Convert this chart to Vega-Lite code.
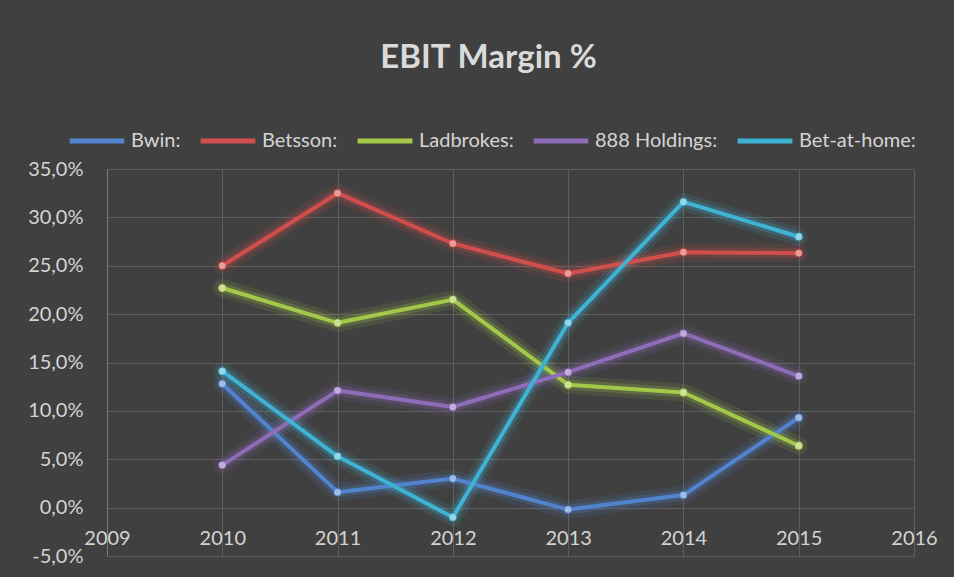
{
  "$schema": "https://vega.github.io/schema/vega-lite/v6.json",
  "width": 807,
  "height": 387,
  "autosize": {"type": "none"},
  "padding": {"left": 107, "top": 169, "right": 40, "bottom": 21},
  "background": "#404040",
  "config": {"view": {"stroke": null}},
  "title": {
    "text": "EBIT Margin %",
    "font": "Lato",
    "fontSize": 33,
    "fontWeight": "bold",
    "color": "#dadada",
    "anchor": "middle",
    "frame": "group",
    "dx": -22,
    "offset": 36
  },
  "data": {
    "values": [
      {"company": "Bwin", "year": 2010, "value": 12.8},
      {"company": "Bwin", "year": 2011, "value": 1.6},
      {"company": "Bwin", "year": 2012, "value": 3.0},
      {"company": "Bwin", "year": 2013, "value": -0.2},
      {"company": "Bwin", "year": 2014, "value": 1.3},
      {"company": "Bwin", "year": 2015, "value": 9.3},
      {"company": "Betsson", "year": 2010, "value": 25.0},
      {"company": "Betsson", "year": 2011, "value": 32.5},
      {"company": "Betsson", "year": 2012, "value": 27.3},
      {"company": "Betsson", "year": 2013, "value": 24.2},
      {"company": "Betsson", "year": 2014, "value": 26.4},
      {"company": "Betsson", "year": 2015, "value": 26.3},
      {"company": "Ladbrokes", "year": 2010, "value": 22.7},
      {"company": "Ladbrokes", "year": 2011, "value": 19.1},
      {"company": "Ladbrokes", "year": 2012, "value": 21.5},
      {"company": "Ladbrokes", "year": 2013, "value": 12.7},
      {"company": "Ladbrokes", "year": 2014, "value": 11.9},
      {"company": "Ladbrokes", "year": 2015, "value": 6.4},
      {"company": "888 Holdings", "year": 2010, "value": 4.4},
      {"company": "888 Holdings", "year": 2011, "value": 12.1},
      {"company": "888 Holdings", "year": 2012, "value": 10.4},
      {"company": "888 Holdings", "year": 2013, "value": 14.0},
      {"company": "888 Holdings", "year": 2014, "value": 18.0},
      {"company": "888 Holdings", "year": 2015, "value": 13.6},
      {"company": "Bet-at-home", "year": 2010, "value": 14.1},
      {"company": "Bet-at-home", "year": 2011, "value": 5.3},
      {"company": "Bet-at-home", "year": 2012, "value": -1.0},
      {"company": "Bet-at-home", "year": 2013, "value": 19.1},
      {"company": "Bet-at-home", "year": 2014, "value": 31.6},
      {"company": "Bet-at-home", "year": 2015, "value": 28.0}
    ]
  },
  "encoding": {
    "x": {
      "field": "year",
      "type": "quantitative",
      "scale": {"domain": [2009, 2016], "nice": false, "zero": false},
      "axis": {
        "values": [2009, 2010, 2011, 2012, 2013, 2014, 2015, 2016],
        "format": "d",
        "title": null,
        "grid": true,
        "gridColor": "#5e5e5e",
        "gridWidth": 1,
        "domain": false,
        "ticks": false,
        "labelPadding": -28,
        "labelFlush": false,
        "labelFont": "Lato",
        "labelFontSize": 20,
        "labelColor": "#d4d4d4"
      }
    },
    "y": {
      "field": "value",
      "type": "quantitative",
      "scale": {"domain": [-5, 35], "nice": false, "zero": false},
      "axis": {
        "values": [-5, 0, 5, 10, 15, 20, 25, 30, 35],
        "labelExpr": "replace(replace(format(datum.value, '.1f'), '.', ','), '\u2212', '-') + '%'",
        "title": null,
        "grid": true,
        "gridColor": "#5e5e5e",
        "gridWidth": 1,
        "domain": true,
        "domainColor": "#7a7a7a",
        "ticks": false,
        "labelPadding": 24,
        "labelFont": "Lato",
        "labelFontSize": 20,
        "labelColor": "#d4d4d4"
      }
    },
    "color": {
      "field": "company",
      "type": "nominal",
      "scale": {
        "domain": ["Bwin", "Betsson", "Ladbrokes", "888 Holdings", "Bet-at-home"],
        "range": ["#5283cf", "#d04f4c", "#a4c94a", "#8d6cb8", "#3fb3d4"]
      },
      "legend": {
        "title": null,
        "orient": "none",
        "direction": "horizontal",
        "columns": 5,
        "legendX": -40,
        "legendY": -58,
        "symbolType": "stroke",
        "symbolSize": 3000,
        "symbolStrokeWidth": 5,
        "symbolOpacity": 1,
        "labelFont": "Lato",
        "labelFontSize": 20,
        "labelColor": "#d4d4d4",
        "labelOffset": 4,
        "columnPadding": 9,
        "labelExpr": "datum.label + ':'"
      }
    }
  },
  "layer": [
    {"mark": {"type": "line", "strokeWidth": 18, "opacity": 0.12, "strokeJoin": "round", "strokeCap": "round"}},
    {"mark": {"type": "line", "strokeWidth": 10, "opacity": 0.22, "strokeJoin": "round", "strokeCap": "round"}},
    {"mark": {"type": "line", "strokeWidth": 4, "strokeJoin": "round", "strokeCap": "round"}},
    {"mark": {"type": "circle", "size": 60, "opacity": 1}},
    {"mark": {"type": "circle", "size": 42, "opacity": 0.45, "color": "#ffffff"}, "encoding": {"color": {"value": "#ffffff"}}}
  ]
}
